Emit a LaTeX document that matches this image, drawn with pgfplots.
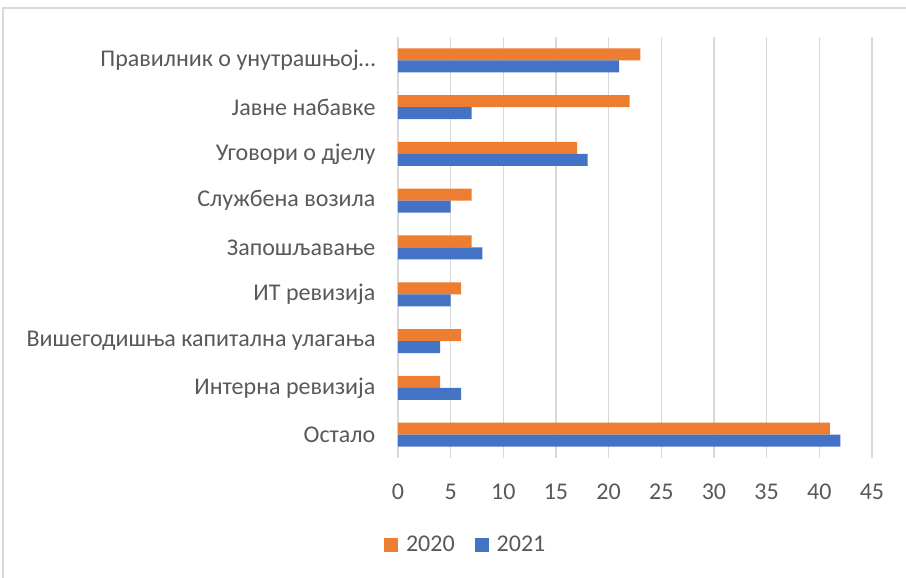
\documentclass[border=0pt]{standalone}
\usepackage{fontspec}
\setmainfont{Carlito}
\usepackage{pgfplots}
\pgfplotsset{compat=1.18}
\definecolor{txtgray}{HTML}{595959}
\definecolor{gridgray}{HTML}{D9D9D9}
\definecolor{frame}{HTML}{D9D9D9}
\definecolor{c2020}{HTML}{ED7D31}
\definecolor{c2021}{HTML}{4472C4}
\begin{document}
\begin{tikzpicture}
\useasboundingbox (-199pt,-60pt) rectangle (254pt,229pt);
\begin{axis}[
    xbar,
    scale only axis,
    width=237pt,
    height=210.5pt,
    xmin=0, xmax=45,
    ymin=-0.5, ymax=8.5,
    xtick={0,5,...,45},
    ytick={0,...,8},
    yticklabels={Остало, Интерна ревизија, Вишегодишња капитална улагања, ИТ ревизија, Запошљавање, Службена возила, Уговори о дјелу, Јавне набавке, Правилник о унутрашњој…},
    bar width=6pt,
    axis line style={draw=none},
    tick style={draw=none},
    xmajorgrids,
    major grid style={gridgray, line width=0.8pt},
    tick label style={font=\fontsize{12}{14}\selectfont, text=txtgray},
    xticklabel style={yshift=-9.5pt},
    yticklabel style={xshift=-3.5pt},
    /pgf/number format/assume math mode=true,
    legend style={at={(0.145,-0.207)}, anchor=center, draw=none,
        legend columns=2, font=\fontsize{12}{14}\selectfont, text=txtgray,
        /tikz/every odd column/.append style={column sep=2pt},
        /tikz/every even column/.append style={column sep=8pt}},
    legend image code/.code={\fill[#1] (0pt,-3.5pt) rectangle (7pt,3.5pt);},
]
\addplot[fill=c2020, draw=none, bar shift=3pt] coordinates {
    (41,0) (4,1) (6,2) (6,3) (7,4) (7,5) (17,6) (22,7) (23,8)
};
\addplot[fill=c2021, draw=none, bar shift=-3pt] coordinates {
    (42,0) (6,1) (4,2) (5,3) (8,4) (5,5) (18,6) (7,7) (21,8)
};
\legend{2020, 2021}
\end{axis}
\draw[frame, line width=0.8pt] (-197.5pt,-60pt) |- (254pt,225pt);
\end{tikzpicture}
\end{document}
